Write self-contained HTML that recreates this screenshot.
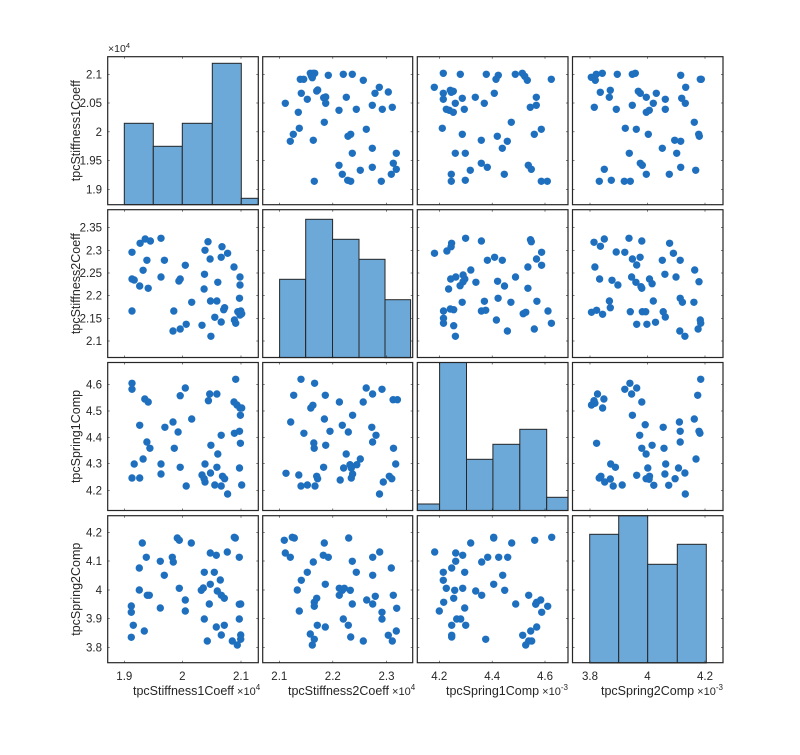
<!DOCTYPE html>
<html><head><meta charset="utf-8"><style>
html,body{margin:0;padding:0;background:#fff;}
svg text{font-family:"Liberation Sans",sans-serif;fill:#262626;}
</style></head><body>
<svg id="s" width="800" height="750" xmlns="http://www.w3.org/2000/svg"></svg>
<script>
const S=document.getElementById('s');let h='';
const cols=[[107.7,258.3],[262.7,412.7],[417.3,568],[572.5,723]];
const rows=[[56.7,204.7],[209.7,357.5],[362.5,510.5],[515.7,662.7]];
const xt=[[124.3,182.3,241],[279.3,332.8,386.5],[439.3,492.2,545],[590,647.5,705]];
const xl=[['1.9','2','2.1'],['2.1','2.2','2.3'],['4.2','4.4','4.6'],['3.8','4','4.2']];
const yt=[[74.3,103,131.8,160.5,189.3],[227.7,250.4,273,295.7,318.4,341],[384.7,411,437.3,463.7,490.7],[532.3,561,590,618.7,647.3]];
const yl=[['2.1','2.05','2','1.95','1.9'],['2.35','2.3','2.25','2.2','2.15','2.1'],['4.6','4.5','4.4','4.3','4.2'],['4.2','4.1','4','3.9','3.8']];
// off = [xfn-base, yoff]; generic mapping functions
function M3(ox,oy){return {x:z=>ox+z/3,y:z=>oy+z/3};}
function MW(oy){return {x:z=>107.7+(z-110)/2.344,y:z=>oy+z/3};}
function dots(m,arr){let o='';for(const p of arr){o+=`<circle cx="${m.x(p[0]).toFixed(1)}" cy="${m.y(p[1]).toFixed(1)}" r="3.7" fill="#1f6fbf"/>`;}return o;}
function bars(m,arr,bot){let o='';for(const b of arr){const x=m.x(b[0]),w=m.x(b[1])-x,y=m.y(b[2]),hh=m.y(bot)-y;o+=`<rect x="${x.toFixed(1)}" y="${y.toFixed(1)}" width="${w.toFixed(1)}" height="${hh.toFixed(1)}" fill="#6ca8d8" stroke="#262626" stroke-width="1"/>`;}return o;}
h+=`<clipPath id="c3"><rect x="417.3" y="362.5" width="150.7" height="148"/></clipPath>`;
h+=bars(M3(60,30),[[193,280,280],[280,367,349],[367,457,280],[457,544,100],[544,595,505]],524);
const m4=MW(205),m5=MW(358);
h+=bars(m4,[[513,574,223],[574,637,43],[637,699,103],[699,760,163],[760,820,284]],458);
h+='<g clip-path="url(#c3)">'+bars(m5,[[836,888,438],[888,951,0],[951,1013,304],[1013,1076,259],[1076,1139,214],[1139,1190,418]],458)+'</g>';
h+=bars(M3(560,505),[[89,176,88],[176,263,32],[263,352,178],[352,439,118]],474);
const o3=M3(258,55);
h+=dots(o3,[[157,55],[165,55],[170,55],[160,62],[163,68],[127,73],[137,73],[211,61],[256,58],[283,58],[316,76],[364,97],[351,115],[391,111],[130,115],[148,133],[176,108],[179,105],[197,128],[203,126],[203,145],[265,127],[82,145],[121,172],[243,166],[295,163],[343,151],[373,163],[403,157],[199,202],[124,220],[106,238],[97,259],[166,256],[270,244],[278,238],[325,223],[283,295],[343,280],[415,295],[243,331],[253,358],[343,337],[307,346],[406,325],[415,343],[400,358],[169,379],[269,376],[278,379],[370,379]]);
h+=dots(o3,[[556,55],[607,58],[685,58],[721,61],[714,73],[772,58],[793,55],[800,64],[808,76],[880,73],[529,97],[556,115],[577,106],[586,109],[580,112],[556,133],[613,130],[652,127],[709,115],[592,145],[679,145],[835,127],[817,157],[835,151],[565,163],[574,166],[586,172],[619,163],[760,202],[553,220],[613,238],[670,256],[718,244],[748,259],[733,280],[829,238],[850,223],[592,295],[622,295],[670,325],[688,337],[637,346],[811,331],[820,343],[580,358],[580,379],[622,376],[739,358],[850,379],[868,379]]);
h+=dots(o3,[[1000,67],[1015,58],[1033,55],[1012,76],[1078,58],[1123,58],[1132,55],[1268,61],[1327,73],[1330,73],[1027,112],[1057,106],[1054,127],[1141,109],[1147,115],[1165,127],[1195,115],[1222,133],[1283,97],[1271,130],[1282,145],[1009,157],[1075,163],[1123,151],[1186,145],[1165,172],[1174,166],[1222,163],[1309,202],[1102,220],[1135,223],[1171,238],[1322,238],[1324,244],[1250,256],[1268,259],[1213,280],[1256,295],[1114,295],[1147,325],[1153,331],[1039,343],[1165,358],[1234,358],[1268,337],[1313,346],[1024,379],[1060,376],[1099,379],[1117,379]]);
h+=dots(m4,[[167,142],[167,222],[172,225],[186,115],[198,102],[210,108],[235,100],[202,166],[243,166],[193,196],[185,243],[205,250],[235,216],[277,228],[280,222],[292,181],[167,318],[265,318],[263,378],[280,372],[294,358],[307,292],[331,361],[352,394],[338,136],[345,110],[350,162],[378,125],[391,145],[376,157],[337,208],[336,252],[351,288],[366,288],[368,232],[361,337],[376,351],[384,308],[382,314],[406,186],[420,216],[420,240],[419,280],[407,345],[410,355],[415,320],[422,318],[424,326],[420,330]]);
h+=dots(m4,[[876,145],[905,138],[916,115],[915,125],[949,100],[986,108],[1000,166],[1017,157],[1035,166],[1101,104],[1103,110],[1127,142],[1115,162],[1127,181],[1095,186],[961,195],[943,210],[947,222],[914,222],[926,216],[936,242],[909,252],[943,230],[973,232],[1066,216],[1040,243],[1024,229],[1095,250],[1025,280],[993,289],[1055,292],[1116,289],[941,292],[897,318],[913,312],[921,314],[986,318],[996,316],[1084,326],[1090,322],[1142,318],[897,340],[897,355],[921,362],[925,394],[1021,345],[1047,378],[1110,372],[1150,355]]);
h+=dots(m4,[[1250,112],[1265,124],[1274,102],[1252,186],[1263,222],[1292,226],[1306,240],[1302,141],[1322,142],[1332,100],[1340,162],[1350,180],[1358,157],[1362,108],[1338,216],[1348,232],[1360,245],[1362,250],[1380,222],[1386,236],[1389,288],[1410,166],[1416,208],[1427,115],[1436,145],[1452,166],[1442,216],[1452,280],[1457,292],[1486,195],[1496,230],[1484,292],[1244,322],[1256,316],[1270,328],[1286,288],[1288,308],[1335,320],[1350,358],[1363,320],[1371,320],[1374,358],[1394,352],[1417,336],[1412,320],[1451,378],[1463,394],[1494,372],[1499,345],[1500,355]]);
h+=dots(m5,[[167,76],[167,94],[185,202],[197,123],[205,132],[202,252],[209,271],[193,303],[172,318],[167,360],[185,360],[235,318],[235,348],[244,208],[263,192],[275,222],[266,271],[280,328],[280,113],[292,90],[294,384],[307,183],[338,318],[331,351],[338,372],[336,362],[351,345],[352,262],[346,128],[349,108],[366,108],[368,288],[366,328],[361,381],[376,232],[376,384],[379,355],[384,362],[391,408],[410,64],[406,132],[413,141],[420,150],[424,150],[421,172],[419,220],[407,226],[421,256],[419,330],[424,381]]);
h+=dots(m5,[[563,64],[595,76],[546,112],[539,192],[570,226],[586,150],[591,142],[620,112],[618,183],[631,220],[621,262],[593,255],[594,271],[528,346],[558,351],[563,384],[578,381],[596,384],[600,355],[602,362],[616,328],[653,132],[660,202],[655,366],[669,288],[674,222],[684,172],[678,320],[663,330],[681,330],[681,360],[684,348],[694,320],[702,303],[709,132],[716,90],[731,108],[729,208],[739,232],[731,252],[753,94],[779,125],[789,125],[780,271],[785,318],[756,372],[747,408],[770,355],[776,362]]);
h+=dots(m5,[[1244,141],[1250,128],[1252,136],[1270,150],[1273,123],[1258,108],[1256,256],[1262,360],[1266,355],[1275,372],[1288,363],[1289,318],[1300,328],[1295,384],[1316,381],[1322,94],[1334,76],[1350,90],[1338,108],[1340,172],[1362,132],[1357,232],[1362,271],[1370,200],[1372,288],[1376,330],[1380,355],[1386,262],[1390,382],[1372,362],[1350,352],[1379,364],[1412,208],[1414,271],[1418,318],[1416,348],[1425,382],[1440,362],[1448,330],[1450,192],[1452,220],[1452,252],[1463,345],[1464,408],[1485,183],[1489,303],[1493,112],[1496,220],[1498,226],[1500,64]]);
const o2=M3(60,480);
h+=dots(o2,[[214,472],[214,397],[214,378],[220,436],[247,189],[238,264],[238,330],[253,453],[259,232],[262,346],[268,346],[301,244],[301,384],[313,286],[337,232],[340,246],[358,325],[352,174],[358,181],[376,360],[376,393],[394,189],[424,331],[430,324],[433,277],[433,417],[442,483],[448,372],[451,313],[451,219],[463,277],[469,226],[469,441],[472,333],[481,300],[484,465],[484,346],[493,355],[502,216],[493,436],[517,483],[526,174],[523,172],[532,495],[538,232],[538,417],[538,373],[542,372],[542,465],[542,478]]);
h+=dots(o2,[[676,219],[691,232],[673,181],[697,172],[703,174],[712,330],[718,393],[724,301],[742,277],[751,462],[757,495],[763,478],[763,367],[763,379],[770,355],[760,246],[772,436],[796,441],[793,189],[790,226],[805,232],[796,313],[838,325],[838,346],[847,331],[853,325],[871,331],[866,174],[877,244],[877,372],[850,417],[865,436],[872,471],[889,277],[910,483],[920,360],[938,232],[938,286],[938,372],[946,349],[959,216],[966,397],[966,417],[985,466],[994,264],[997,483],[1000,346],[1010,385],[1009,453]]);
h+=dots(o2,[[1124,216],[1150,277],[1150,301],[1138,393],[1159,325],[1151,367],[1175,436],[1175,466],[1175,471],[1175,264],[1181,355],[1184,331],[1187,219],[1187,244],[1190,417],[1208,226],[1208,325],[1214,277],[1214,384],[1202,417],[1217,436],[1232,189],[1247,333],[1265,346],[1265,246],[1277,478],[1283,232],[1301,313],[1301,172],[1301,174],[1316,232],[1328,286],[1334,331],[1343,232],[1355,189],[1367,372],[1388,466],[1397,495],[1406,483],[1415,483],[1412,453],[1406,346],[1424,181],[1427,373],[1430,367],[1430,441],[1445,397],[1442,360],[1463,379],[1475,172]]);
for(let r=0;r<4;r++)for(let c=0;c<4;c++){const [x0,x1]=cols[c],[y0,y1]=rows[r];
 for(const t of xt[c]){h+=`<line x1="${t}" x2="${t}" y1="${y1}" y2="${y1-2}" stroke="#262626" stroke-width="0.6"/><line x1="${t}" x2="${t}" y1="${y0}" y2="${y0+2}" stroke="#262626" stroke-width="0.6"/>`;}
 for(const t of yt[r]){h+=`<line x1="${x0}" x2="${x0+2}" y1="${t}" y2="${t}" stroke="#262626" stroke-width="0.6"/><line x1="${x1}" x2="${x1-2}" y1="${t}" y2="${t}" stroke="#262626" stroke-width="0.6"/>`;}
 h+=`<rect x="${x0}" y="${y0}" width="${x1-x0}" height="${y1-y0}" fill="none" stroke="#262626" stroke-width="1.2"/>`;}
for(let r=0;r<4;r++)yt[r].forEach((t,i)=>{h+=`<text x="102" y="${t+4}" font-size="11.5" text-anchor="end">${yl[r][i]}</text>`;});
for(let c=0;c<4;c++)xt[c].forEach((t,i)=>{h+=`<text x="${t}" y="680" font-size="11.5" text-anchor="middle">${xl[c][i]}</text>`;});
const xn=[['tpcStiffness1Coeff','4',133],['tpcStiffness2Coeff','4',288],['tpcSpring1Comp','-3',446],['tpcSpring2Comp','-3',601]];
for(const [n,e,x] of xn){h+=`<text x="${x}" y="695" font-size="12.5">${n}<tspan font-size="11"> ×10</tspan><tspan font-size="8" dy="-5">${e}</tspan></text>`;}
const yn=['tpcStiffness1Coeff','tpcStiffness2Coeff','tpcSpring1Comp','tpcSpring2Comp'];
yn.forEach((n,r)=>{const cy=(rows[r][0]+rows[r][1])/2;h+=`<text x="0" y="0" font-size="12.5" text-anchor="middle" transform="translate(80,${cy}) rotate(-90)">${n}</text>`;});
h+=`<text x="108" y="52" font-size="10.5">×10<tspan font-size="7.5" dy="-4">4</tspan></text>`;
S.innerHTML=h;
</script>
</body></html>
